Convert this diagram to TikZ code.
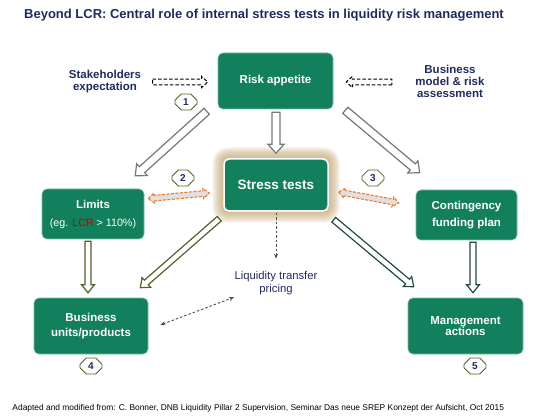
\documentclass[tikz,border=0pt]{standalone}
\usepackage{fontspec}
\setmainfont{Liberation Sans}
\usetikzlibrary{arrows.meta, calc, shapes.misc, backgrounds}
\definecolor{cbox}{HTML}{12805C}
\definecolor{cnavy}{HTML}{1F2A63}
\definecolor{colive}{HTML}{4F6228}
\definecolor{cteal}{HTML}{234A3A}
\definecolor{cgrey}{HTML}{777777}
\definecolor{corange}{HTML}{EB7A2E}
\definecolor{cglow}{HTML}{C2A772}
\definecolor{cred}{HTML}{C00000}
\tikzset{
  every picture/.style={line width=1pt},
  box/.style={draw=cbox!55!white, line width=0.6pt, fill=cbox, rounded corners=5pt, text=white, align=center, inner sep=0pt},
  boxfont/.style={font=\fontsize{11.5}{#1}\selectfont\bfseries},
  label/.style={text=cnavy, align=center, inner sep=0pt, font=\fontsize{11.5}{#1}\selectfont\bfseries},
  badge/.style={chamfered rectangle, chamfered rectangle xsep=4pt, draw=colive, fill=white, line width=0.8pt, minimum width=22pt, minimum height=16pt, inner sep=0pt, text=cnavy, font=\fontsize{10}{10}\selectfont\bfseries},
  fatsize/.code n args={3}{\def\fatw{#1}\def\fathw{#2}\def\fatl{#3}},
  fatgrey/.style={draw=cgrey, fill=white, line width=1.2pt, line join=miter, fatsize={4pt}{8pt}{9pt}},
  fatolive/.style={draw=colive, fill=white, line width=1.2pt, line join=miter, fatsize={3pt}{6.5pt}{8pt}},
  fatteal/.style={draw=cteal, fill=white, line width=1.2pt, line join=miter, fatsize={3pt}{6.5pt}{8pt}},
  fatorange/.style={draw=corange, fill=black!12, line width=1.1pt, dash pattern=on 3pt off 1.5pt, fatsize={2.8pt}{5pt}{6pt}},
  fatdash/.style={draw=black, fill=white, line width=1pt, dash pattern=on 3.5pt off 2pt, fatsize={2.8pt}{5.5pt}{6pt}},
  thin arrow/.style={draw=black!70, line width=0.9pt, dash pattern=on 2.5pt off 2pt, -{Stealth[length=5pt, width=4pt]}},
}
% hollow block arrow, one head
\newcommand{\fatarrow}[3]{%
  \path[#1] ($(#3)!\fatl!(#2)$) coordinate (fat-n)
    ($(#2)!\fatw!90:(#3)$) -- ($(fat-n)!\fatw!90:(#3)$) -- ($(fat-n)!\fathw!90:(#3)$) -- (#3)
    -- ($(fat-n)!\fathw!-90:(#3)$) -- ($(fat-n)!\fatw!-90:(#3)$) -- ($(#2)!\fatw!-90:(#3)$) -- cycle;}
% hollow block arrow, two heads
\newcommand{\fatarrows}[3]{%
  \path[#1] ($(#2)!\fatl!(#3)$) coordinate (fat-a) ($(#3)!\fatl!(#2)$) coordinate (fat-b)
    (#2) -- ($(fat-a)!\fathw!90:(#3)$) -- ($(fat-a)!\fatw!90:(#3)$) -- ($(fat-b)!\fatw!90:(#3)$) -- ($(fat-b)!\fathw!90:(#3)$) -- (#3)
    -- ($(fat-b)!\fathw!-90:(#3)$) -- ($(fat-b)!\fatw!-90:(#3)$) -- ($(fat-a)!\fatw!-90:(#3)$) -- ($(fat-a)!\fathw!-90:(#3)$) -- cycle;}
\begin{document}
\begin{tikzpicture}[x=1pt, y=-1pt]
  \useasboundingbox (0,0) rectangle (550,420);
  \node[font=\fontsize{13}{15}\selectfont\bfseries, text=cnavy] (title) at (264,15) {Beyond LCR: Central role of internal stress tests in liquidity risk management};
  % boxes
  \node[box, boxfont=13, minimum width=115pt, minimum height=56pt] (risk) at (275.5,81) {Risk appetite};
  \node[box, draw=white, line width=1.5pt, font=\fontsize{13.5}{15}\selectfont\bfseries, minimum width=104pt, minimum height=52pt] (stress) at (276,185) {Stress tests};
  \node[box, boxfont=18, minimum width=102pt, minimum height=50pt] (limits) at (93,214) {Limits\\{\fontsize{10.7}{12}\selectfont\mdseries (eg. \textcolor{cred}{LCR} > 110\%)}};
  \node[box, boxfont=16.7, minimum width=101pt, minimum height=50pt] (cfp) at (466.5,215) {Contingency\\funding plan};
  \node[box, boxfont=14.3, minimum width=114pt, minimum height=56pt] (units) at (91,326) {Business\\units/products};
  \node[box, boxfont=11.7, minimum width=115pt, minimum height=56pt] (mgmt) at (465.5,326) {Management\\actions};
  % outside texts
  \node[label=11.3] (stake) at (105,81.5) {Stakeholders\\expectation};
  \node[label=12] (bm) at (450,81) {Business\\model \& risk\\assessment};
  \node[text=cnavy, align=center, inner sep=0pt, font=\fontsize{11.3}{13}\selectfont] (ltp) at (276,283) {Liquidity transfer\\pricing};
  \node[anchor=west, inner sep=0pt, font=\fontsize{8.4}{10}\selectfont] (src) at (12,408) {Adapted and modified from: C. Bonner, DNB Liquidity Pillar 2 Supervision, Seminar Das neue SREP Konzept der Aufsicht, Oct 2015};
  \foreach \n/\x/\y in {1/186/102, 2/183/178, 3/373/178, 4/91/366, 5/475/366}
    \node[badge] (b\n) at (\x,\y) {\n};
  % arrow ends
  \coordinate (ra-s) at ($(risk.south)+(0.5,3)$);
  \coordinate (st-n) at ($(stress.north)+(0,-5)$);
  \coordinate (ra-l) at ($(risk.south west)+(-11,2)$);
  \coordinate (li-r) at ($(limits.north east)+(-9,-13)$);
  \coordinate (ra-r) at ($(risk.south east)+(12,1)$);
  \coordinate (cf-l) at ($(cfp.north west)+(4,-17)$);
  \coordinate (li-s) at ($(limits.south)+(-5,2)$);
  \coordinate (un-n) at ($(units.north)+(-3,-5)$);
  \coordinate (st-sw) at ($(stress.south west)+(-4,7)$);
  \coordinate (un-ne) at ($(units.north east)+(-8,-10)$);
  \coordinate (cf-s) at ($(cfp.south)+(6.5,2)$);
  \coordinate (mg-n) at ($(mgmt.north)+(7.5,-5)$);
  \coordinate (st-se) at ($(stress.south east)+(5,8)$);
  \coordinate (mg-nw) at ($(mgmt.north west)+(6,-11)$);
  \coordinate (li-e) at ($(limits.north east)+(4,10)$);
  \coordinate (st-w) at ($(stress.west)+(-14,8)$);
  \coordinate (st-e) at ($(stress.east)+(10,7)$);
  \coordinate (cf-w) at ($(cfp.west)+(-17,-12)$);
  \coordinate (sk-e) at ($(stake.east)+(11,0.5)$);
  \coordinate (ra-w) at ($(risk.west)+(-10,1)$);
  \coordinate (bm-w) at ($(bm.west)+(-23,1)$);
  \coordinate (ra-e) at ($(risk.east)+(13,1)$);
  % block arrows
  \fatarrow{fatgrey}{ra-s}{st-n}
  \fatarrow{fatgrey}{ra-l}{li-r}
  \fatarrow{fatgrey}{ra-r}{cf-l}
  \fatarrow{fatolive}{li-s}{un-n}
  \fatarrow{fatolive}{st-sw}{un-ne}
  \fatarrow{fatteal}{cf-s}{mg-n}
  \fatarrow{fatteal}{st-se}{mg-nw}
  \fatarrows{fatorange}{li-e}{st-w}
  \fatarrows{fatorange}{st-e}{cf-w}
  \fatarrow{fatdash}{sk-e}{ra-w}
  \fatarrow{fatdash}{bm-w}{ra-e}
  % transfer pricing
  \draw[thin arrow] ($(stress.south)+(0,1)$) -- ($(ltp.north)+(0,-12)$);
  \draw[thin arrow, {Stealth[length=5pt, width=4pt]}-{Stealth[length=5pt, width=4pt]}] ($(units.east)+(12,-1)$) -- ($(ltp.south west)+(0,2)$);
  % glow round the stress tests box
  \begin{scope}[on background layer]
    \foreach \g in {1,...,11}
      \fill[cglow, opacity=0.11, rounded corners=5pt+\g pt] ($(stress.south west)+(-\g,\g)$) rectangle ($(stress.north east)+(\g,-\g)$);
  \end{scope}
\end{tikzpicture}
\end{document}
